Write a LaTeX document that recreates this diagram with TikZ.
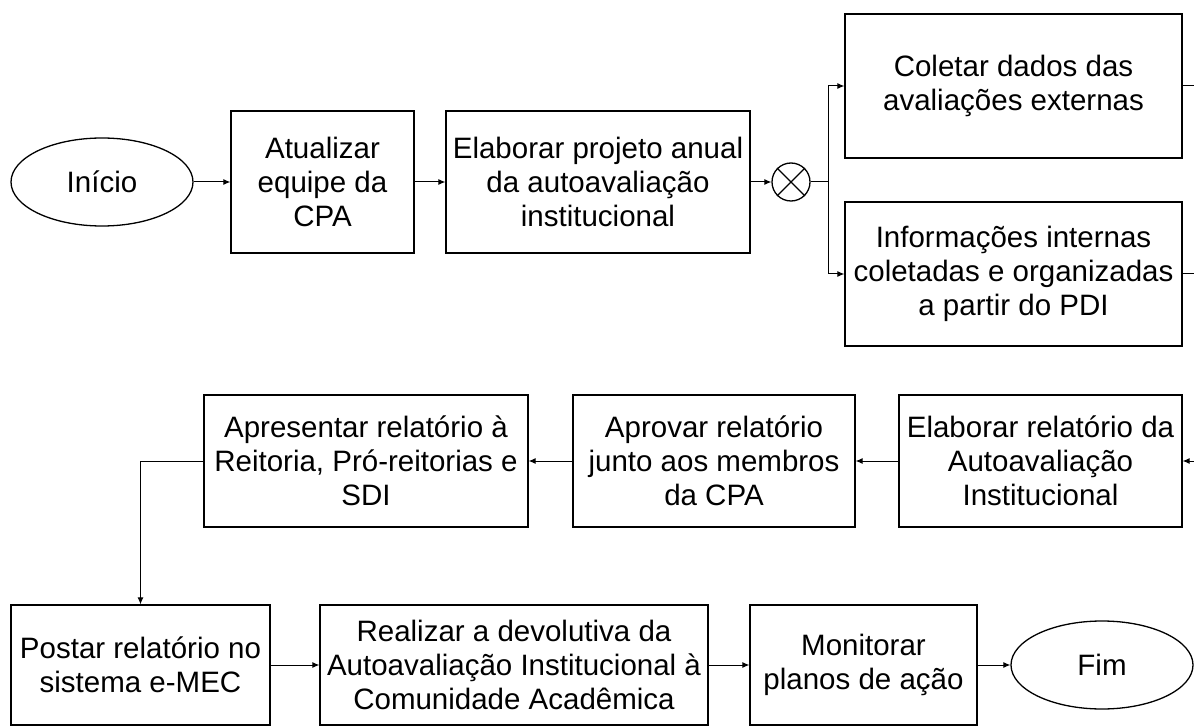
\documentclass[tikz,border=0pt]{standalone}
\usepackage{fontspec}
\setmainfont{Liberation Sans}
\usetikzlibrary{shapes.geometric,arrows.meta}

\begin{document}
\begin{tikzpicture}[x=1pt, y=-1pt,
		every node/.style={font=\fontsize{29.5}{34}\selectfont, align=center, inner sep=0pt},
		caixa/.style={draw, line width=1.3pt, rectangle},
		terminal/.style={draw, line width=1.3pt, ellipse, minimum width=182pt, minimum height=88pt},
		seta/.style={line width=1pt, -{Latex[length=7pt,width=6pt]}},
		linha/.style={line width=1pt}]
		\pgfmathsetmacro{\linhaA}{182}
		\pgfmathsetmacro{\linhaB}{461}
		\pgfmathsetmacro{\linhaC}{665}
		\clip (0,0) rectangle (1194,727);

		\node[terminal] (inicio) at (102,\linhaA) {Início};
		\node[caixa, minimum width=183pt, minimum height=142pt] (atualizar) at (322.5,\linhaA) {Atualizar\\equipe da\\CPA};
		\node[caixa, minimum width=304pt, minimum height=142pt] (projeto) at (598,\linhaA) {Elaborar projeto anual\\da autoavaliação\\institucional};
		\node[draw, circle, line width=1.3pt, minimum size=38pt] (juncao) at (791,\linhaA) {};
		\draw[line width=1.3pt] (juncao.north west) -- (juncao.south east) (juncao.north east) -- (juncao.south west);
		\coordinate (ramo) at (828,\linhaA);
		\node[caixa, minimum width=337pt, minimum height=144pt] (coletar) at (1013.5,86) {Coletar dados das\\avaliações externas};
		\node[caixa, minimum width=337pt, minimum height=144pt] (internas) at (1013.5,274) {Informações internas\\coletadas e organizadas\\a partir do PDI};
		\coordinate (saidaA) at (1200,86);
		\coordinate (saidaB) at (1200,274);

		\node[caixa, minimum width=283pt, minimum height=132pt] (elabrel) at (1040.5,\linhaB) {Elaborar relatório da\\Autoavaliação\\Institucional};
		\node[caixa, minimum width=282pt, minimum height=132pt] (aprovar) at (714,\linhaB) {Aprovar relatório\\junto aos membros\\da CPA};
		\node[caixa, minimum width=324pt, minimum height=132pt] (apresentar) at (366,\linhaB) {Apresentar relatório à\\Reitoria, Pró-reitorias e\\SDI};
		\coordinate (entrada) at (1200,\linhaB);
		\coordinate (desvio) at (140.5,\linhaB);

		\node[caixa, minimum width=259pt, minimum height=120pt] (postar) at (140.5,\linhaC) {Postar relatório no\\sistema e-MEC};
		\node[caixa, minimum width=388pt, minimum height=120pt] (devolutiva) at (514,\linhaC) {Realizar a devolutiva da\\Autoavaliação Institucional à\\Comunidade Acadêmica};
		\node[caixa, minimum width=227pt, minimum height=120pt] (monitorar) at (863.5,\linhaC) {Monitorar\\planos de ação};
		\node[terminal] (fim) at (1102,\linhaC) {Fim};

		\draw[seta] (inicio) -- (atualizar);
		\draw[seta] (atualizar) -- (projeto);
		\draw[seta] (projeto) -- (juncao);
		\draw[linha] (juncao) -- (ramo);
		\draw[seta] (ramo) |- (coletar.west);
		\draw[seta] (ramo) |- (internas.west);
		\draw[linha] (coletar.east) -- (saidaA);
		\draw[linha] (internas.east) -- (saidaB);
		\draw[seta] (entrada) -- (elabrel);
		\draw[seta] (elabrel) -- (aprovar);
		\draw[seta] (aprovar) -- (apresentar);
		\draw[linha] (apresentar.west) -- (desvio);
		\draw[seta] (desvio) -- (postar);
		\draw[seta] (postar) -- (devolutiva);
		\draw[seta] (devolutiva) -- (monitorar);
		\draw[seta] (monitorar) -- (fim);
	\end{tikzpicture}
\end{document}
